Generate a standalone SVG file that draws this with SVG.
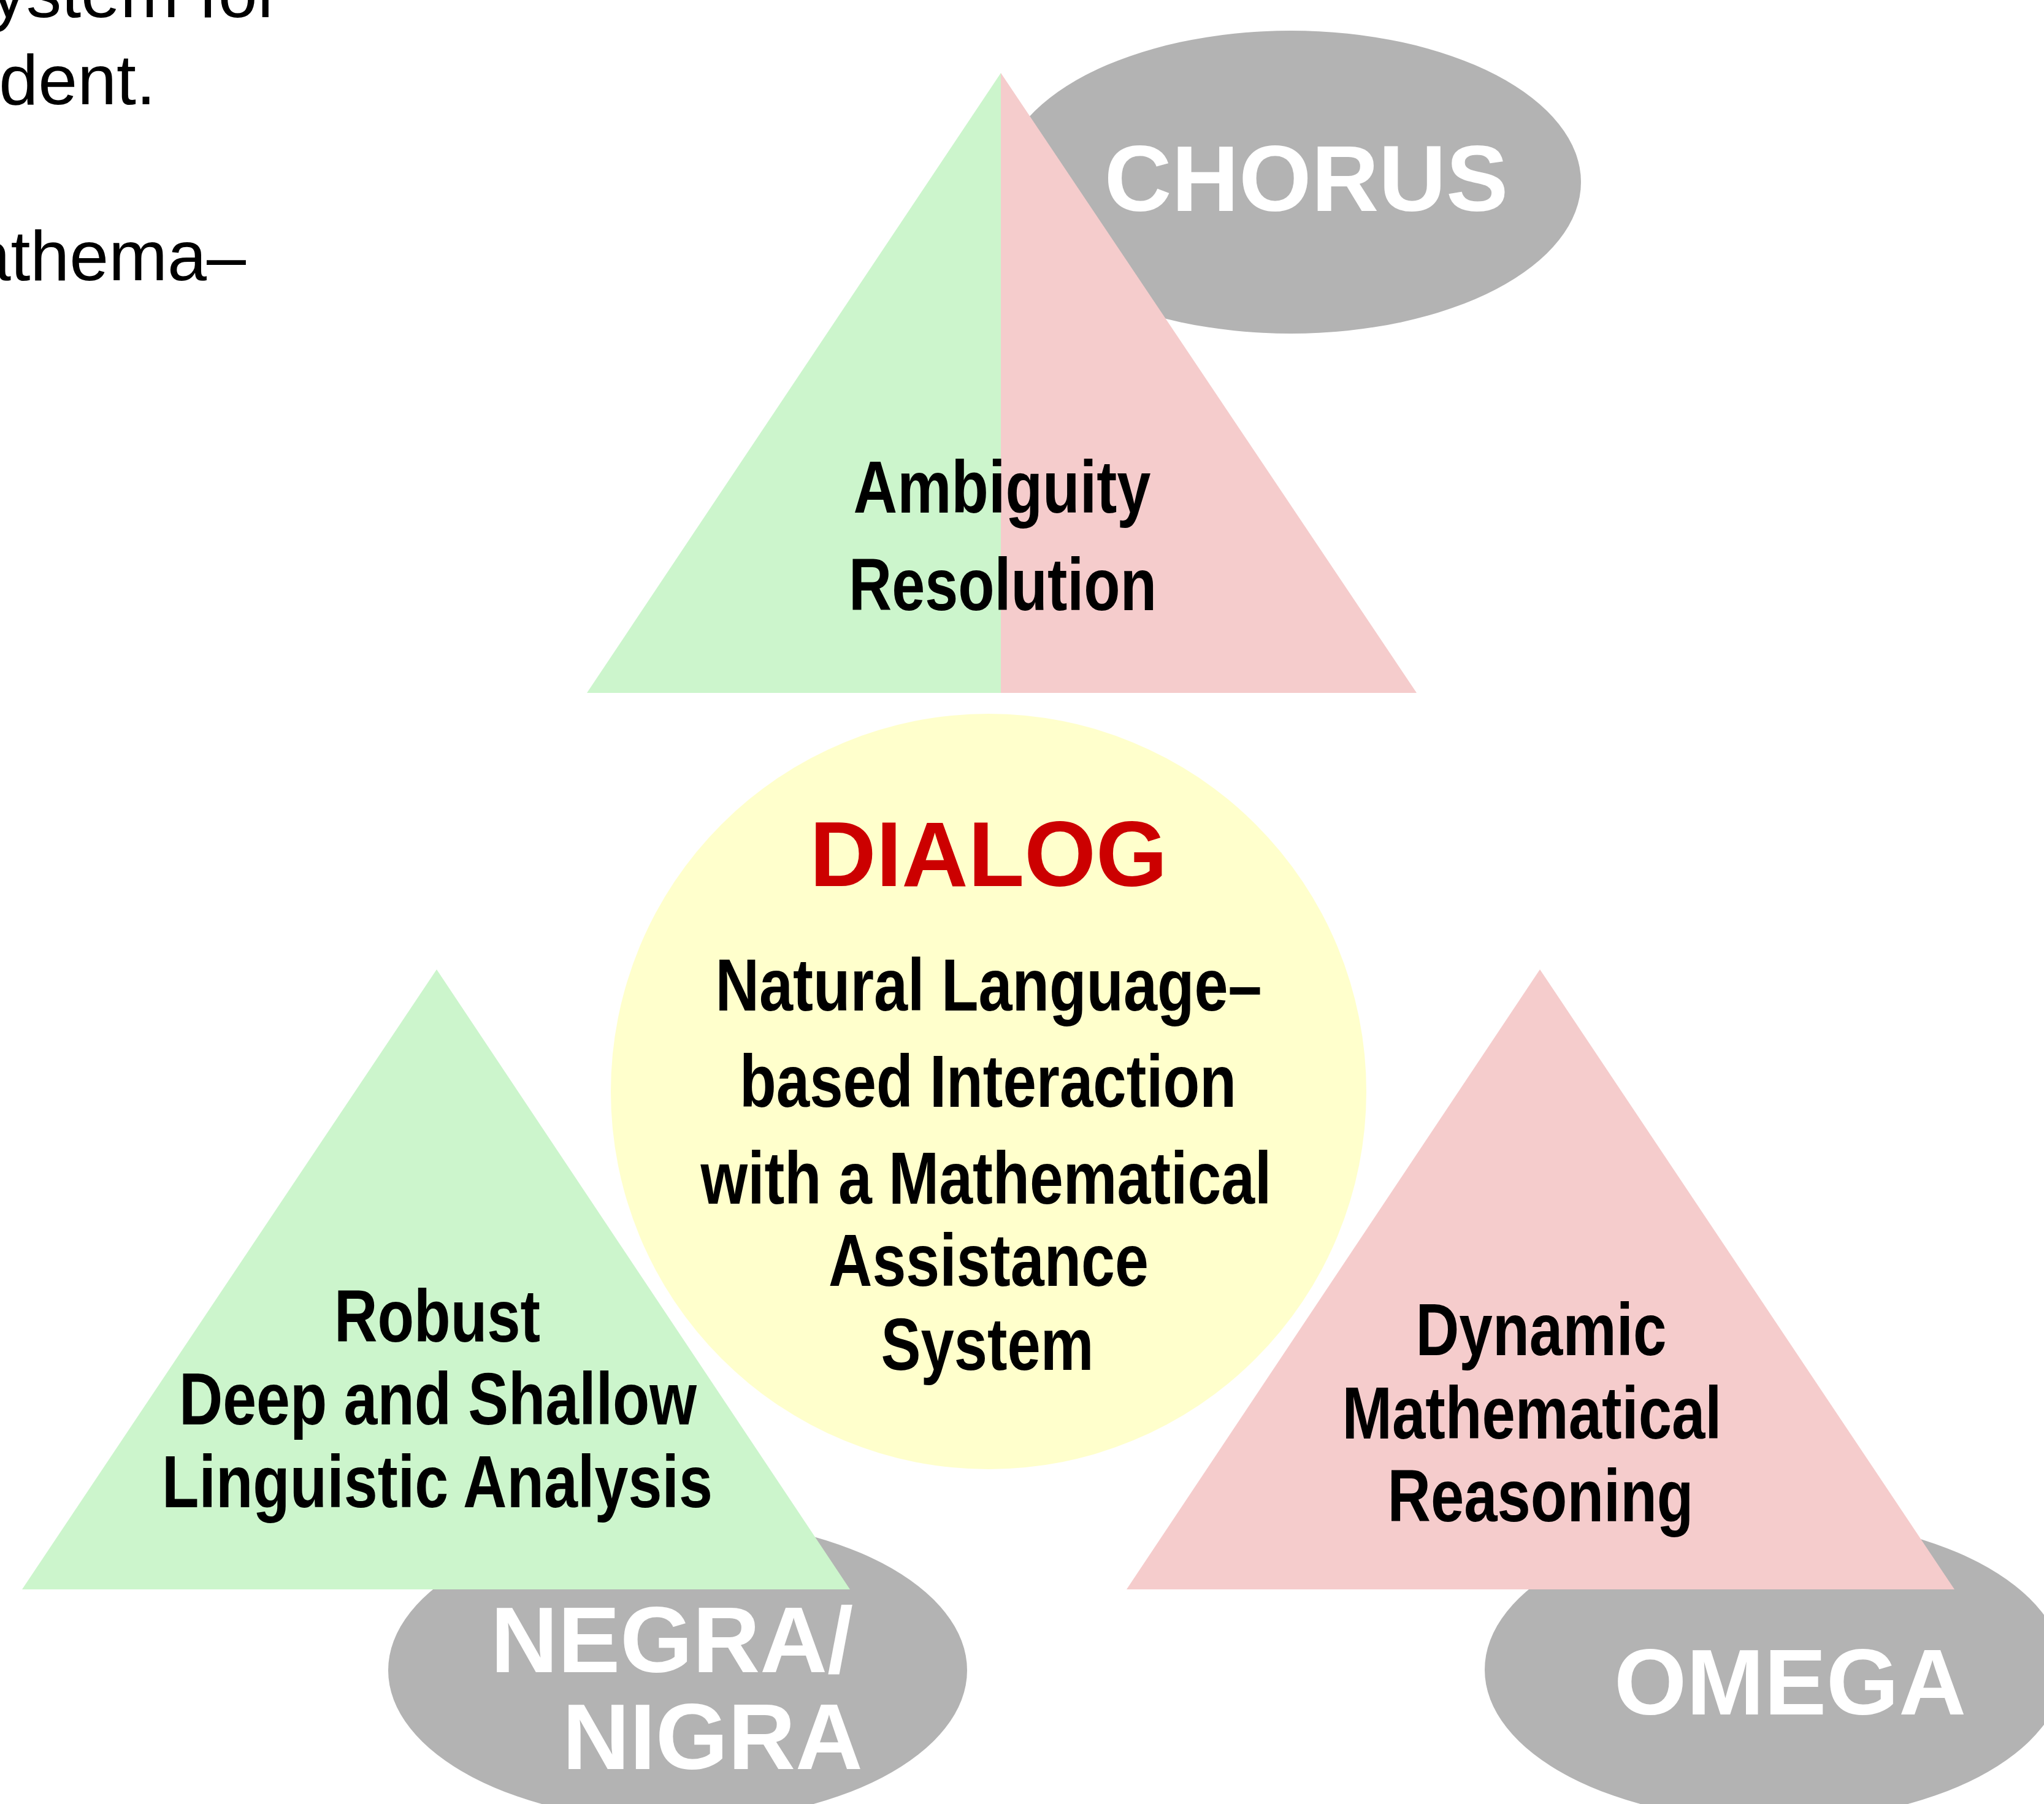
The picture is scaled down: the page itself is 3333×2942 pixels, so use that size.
<svg xmlns="http://www.w3.org/2000/svg" width="3333" height="2942" viewBox="0 0 3333 2942">
<style>
.bg{fill:#FFFFFF}
.green{fill:#CCF5CC}
.pink{fill:#F5CCCC}
.yellow{fill:#FFFFCC}
.gray{fill:#B3B3B3}
.body{font-family:"Liberation Sans",Arial,sans-serif;font-size:115px;fill:#000000}
.proj{font-family:"Liberation Sans",Arial,sans-serif;font-weight:bold;font-size:152px;fill:#FFFFFF}
.topic{font-family:"Liberation Sans Narrow","Liberation Sans",Arial,sans-serif;font-weight:bold;font-size:120px;fill:#000000;text-anchor:middle}
.title{font-family:"Liberation Sans",Arial,sans-serif;font-weight:bold;font-size:150px;fill:#CC0000;text-anchor:middle}
</style>
<rect class="bg" x="0" y="0" width="3333" height="2942"/>

<g id="intro-text">
<text class="body" x="458" y="28" text-anchor="end">system for</text>
<text class="body" x="254" y="170" text-anchor="end">dent.</text>
<text class="body" x="401" y="457" text-anchor="end">athema–</text>
</g>

<g id="chorus">
<ellipse class="gray" cx="2105" cy="297" rx="473" ry="247"/>
<text class="proj" x="2130" y="344" text-anchor="middle" font-size="155">CHORUS</text>
</g>

<g id="negra-nigra">
<ellipse class="gray" cx="1105" cy="2724" rx="472" ry="247"/>
<text class="proj" x="800" y="2727">NEGRA/</text>
<text class="proj" x="917" y="2885">NIGRA</text>
</g>

<g id="omega">
<ellipse class="gray" cx="2893" cy="2723" rx="472" ry="247"/>
<text class="proj" x="2919" y="2796" text-anchor="middle">OMEGA</text>
</g>

<g id="ambiguity-resolution">
<polygon class="green" points="1632,119 957,1130 1632,1130"/>
<polygon class="pink" points="1632,119 2310,1130 1632,1130"/>
<text class="topic" x="1634" y="836" textLength="485" lengthAdjust="spacingAndGlyphs">Ambiguity</text>
<text class="topic" x="1635" y="995" textLength="502" lengthAdjust="spacingAndGlyphs">Resolution</text>
</g>

<g id="dialog">
<circle class="yellow" cx="1612" cy="1780" r="616"/>
<text class="title" x="1612" y="1445">DIALOG</text>
<text class="topic" x="1612" y="1648" textLength="891" lengthAdjust="spacingAndGlyphs">Natural Language–</text>
<text class="topic" x="1611" y="1805" textLength="810" lengthAdjust="spacingAndGlyphs">based Interaction</text>
<text class="topic" x="1608" y="1963" textLength="931" lengthAdjust="spacingAndGlyphs">with a Mathematical</text>
<text class="topic" x="1612" y="2097" textLength="522" lengthAdjust="spacingAndGlyphs">Assistance</text>
<text class="topic" x="1610" y="2234" textLength="347" lengthAdjust="spacingAndGlyphs">System</text>
</g>

<g id="linguistic-analysis">
<polygon class="green" points="712,1581 36,2592 1386,2592"/>
<text class="topic" x="713" y="2188" textLength="336" lengthAdjust="spacingAndGlyphs">Robust</text>
<text class="topic" x="714" y="2323" textLength="844" lengthAdjust="spacingAndGlyphs">Deep and Shallow</text>
<text class="topic" x="713" y="2458" textLength="898" lengthAdjust="spacingAndGlyphs">Linguistic Analysis</text>
</g>

<g id="mathematical-reasoning">
<polygon class="pink" points="2511,1581 1837,2592 3187,2592"/>
<text class="topic" x="2513" y="2210" textLength="409" lengthAdjust="spacingAndGlyphs">Dynamic</text>
<text class="topic" x="2498" y="2346" textLength="619" lengthAdjust="spacingAndGlyphs">Mathematical</text>
<text class="topic" x="2512" y="2481" textLength="499" lengthAdjust="spacingAndGlyphs">Reasoning</text>
</g>

<g id="connectors"></g>
</svg>
